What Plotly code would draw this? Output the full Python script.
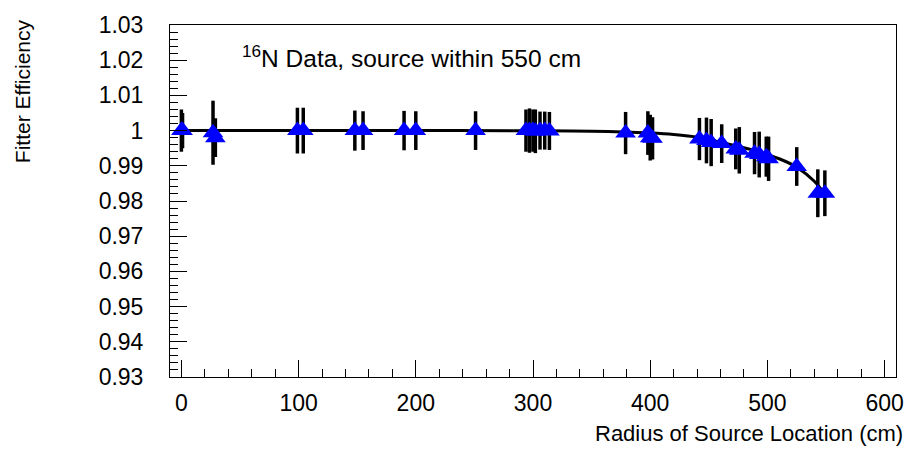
import plotly.graph_objects as go

# Data points (radius cm, efficiency, error)
radius = [0, 1, 27, 29, 99, 104, 148, 155, 190, 200, 251,
          294, 297, 300, 302, 306, 310, 314, 379,
          398, 400, 402, 442, 448, 452, 461, 473, 476, 489, 493, 499, 501,
          525, 543, 549]
efficiency = [1.0, 1.0, 0.9994, 0.998, 1.0, 1.0, 1.0, 1.0, 1.0, 1.0, 1.0,
              1.0, 1.0, 1.0, 0.9998, 1.0, 1.0, 0.9999, 0.9993,
              0.9993, 0.998, 0.9978, 0.9976, 0.9972, 0.9966, 0.9963, 0.9948, 0.9944,
              0.9936, 0.9932, 0.9926, 0.992,
              0.9898, 0.9822, 0.9822]
errors = [0.006, 0.005, 0.0091, 0.0055, 0.0065, 0.0065, 0.0057, 0.0055, 0.0056, 0.0055, 0.0055,
          0.006, 0.0063, 0.006, 0.0062, 0.0054, 0.0054, 0.0054, 0.006,
          0.0062, 0.0065, 0.006, 0.006, 0.0065, 0.0067, 0.0055, 0.0058, 0.0066,
          0.006, 0.0065, 0.0057, 0.0063,
          0.0055, 0.0068, 0.0065]

# Fit curve
fit_r = [0, 100, 200, 300, 350, 400, 420, 441, 461, 489, 510, 525, 540, 550]
fit_eff = [1.0, 1.0, 1.0, 0.99995, 0.9998, 0.9993, 0.9989, 0.9981, 0.9966, 0.9943,
           0.992, 0.9896, 0.9856, 0.9815]

ytick_vals = [0.93, 0.94, 0.95, 0.96, 0.97, 0.98, 0.99, 1.0, 1.01, 1.02, 1.03]
ytick_text = ["0.93", "0.94", "0.95", "0.96", "0.97", "0.98", "0.99", "1", "1.01", "1.02", "1.03"]
xtick_vals = [0, 100, 200, 300, 400, 500, 600]

FONT = "Liberation Sans, Arial, Helvetica, sans-serif"

fig = go.Figure()
fig.add_trace(go.Scatter(
    x=fit_r, y=fit_eff, mode="lines",
    line=dict(color="black", width=3, shape="spline", smoothing=1.0),
    hoverinfo="skip", showlegend=False))
fig.add_trace(go.Scatter(
    x=radius, y=efficiency, mode="markers",
    marker=dict(symbol="triangle-up", color="#0000ff", size=18, line=dict(width=0)),
    error_y=dict(type="data", array=errors, visible=True, color="black", thickness=3.5, width=0),
    showlegend=False))

fig.update_layout(
    width=916, height=450,
    margin=dict(l=170, r=14, t=14, b=73),
    paper_bgcolor="white", plot_bgcolor="white",
    font=dict(family=FONT, color="black"),
    xaxis=dict(
        range=[-9.7, 609.7], showgrid=False, zeroline=False,
        showline=True, linecolor="black", linewidth=1, mirror=True,
        ticks="inside", ticklen=17, tickwidth=1, tickcolor="black",
        tickvals=xtick_vals, tickfont=dict(size=23, family=FONT),
        ticklabelstandoff=5,
        minor=dict(ticks="inside", ticklen=8, dtick=20, tick0=0, tickcolor="black", tickwidth=1),
    ),
    yaxis=dict(
        range=[0.93, 1.03], showgrid=False, zeroline=False,
        showline=True, linecolor="black", linewidth=1, mirror=True,
        ticks="inside", ticklen=17, tickwidth=1, tickcolor="black",
        tickvals=ytick_vals, ticktext=ytick_text, tickfont=dict(size=23, family=FONT),
        ticklabelstandoff=21,
        minor=dict(ticks="inside", ticklen=8, dtick=0.002, tick0=0.93, tickcolor="black", tickwidth=1),
    ),
    annotations=[
        dict(text="<sup>16</sup>N Data, source within 550 cm", xref="paper", yref="paper",
             x=0.097, y=0.91, xanchor="left", yanchor="middle", showarrow=False,
             font=dict(size=24.5, family=FONT, color="black")),
        dict(text="Fitter Efficiency", xref="paper", yref="paper",
             x=-0.204, y=1.022, xanchor="center", yanchor="top", textangle=-90, showarrow=False,
             font=dict(size=21, family=FONT, color="black")),
        dict(text="Radius of Source Location (cm)", xref="paper", yref="paper",
             x=1.012, y=-0.16, xanchor="right", yanchor="middle", showarrow=False,
             font=dict(size=22, family=FONT, color="black")),
    ],
)

fig.write_html("out.html")
